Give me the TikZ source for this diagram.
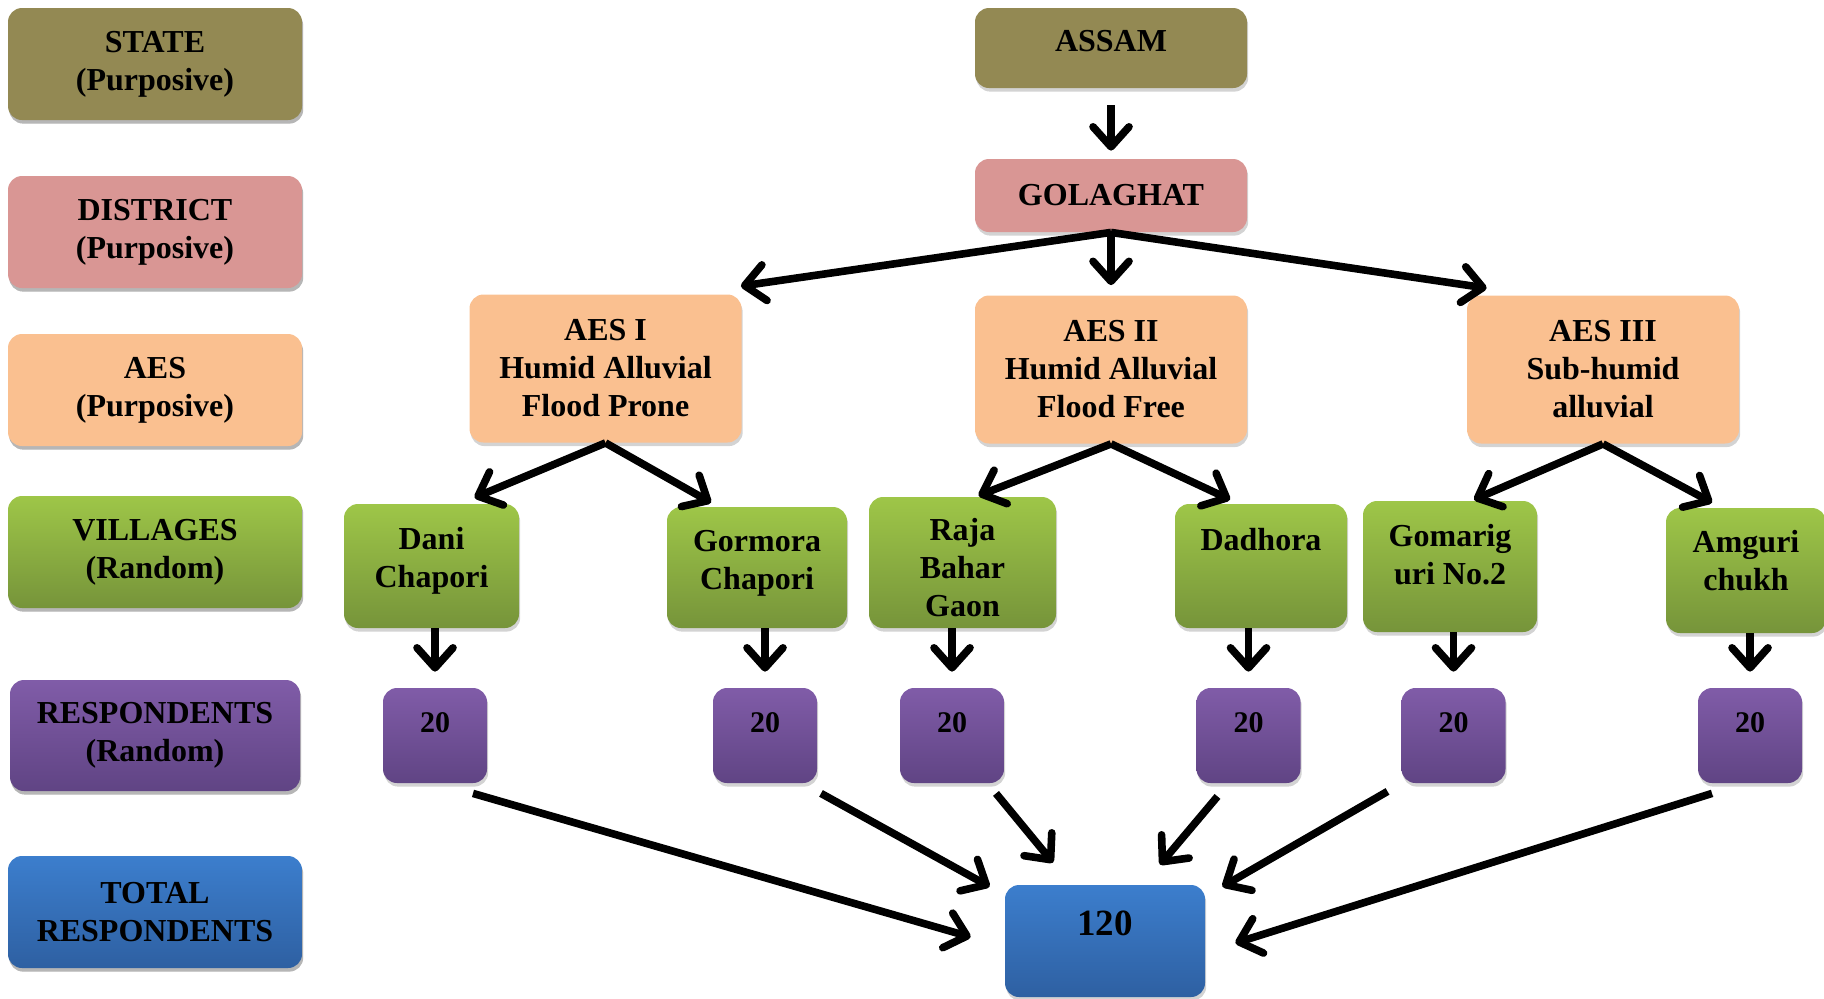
\documentclass[tikz,border=0pt]{standalone}
\usepackage{fontspec}
\setmainfont{Liberation Serif}
\usetikzlibrary{arrows.meta,positioning,calc,shadows}
\definecolor{stateC}{RGB}{147,137,83}
\definecolor{distC}{RGB}{217,150,148}
\definecolor{aesC}{RGB}{250,192,144}
\definecolor{villT}{RGB}{158,198,72}
\definecolor{villB}{RGB}{118,148,58}
\definecolor{respT}{RGB}{128,92,168}
\definecolor{respB}{RGB}{96,68,132}
\definecolor{totT}{RGB}{60,126,205}
\definecolor{totB}{RGB}{46,96,162}
\tikzstyle{box}=[draw=none, rounded corners=7pt, align=center, inner sep=0pt, drop shadow={shadow xshift=0.6pt, shadow yshift=-1.8pt, opacity=0.35}]
\tikzstyle{level}=[box, minimum width=147pt, minimum height=56pt]
\tikzstyle{statebox}=[box, fill=stateC]
\tikzstyle{distbox}=[box, fill=distC]
\tikzstyle{aesbox}=[box, fill=aesC, minimum width=136pt, minimum height=74pt]
\tikzstyle{villbox}=[box, top color=villT, bottom color=villB]
\tikzstyle{respbox}=[box, top color=respT, bottom color=respB, minimum width=52pt, minimum height=47.5pt, text depth=12.5pt, font=\bfseries\fontsize{15}{18}\selectfont]
\tikzstyle{totbox}=[box, top color=totT, bottom color=totB]

\begin{document}
\begin{tikzpicture}[x=0.5pt,y=-0.5pt,>={Straight Barb[length=10pt,width=18pt,round]},font=\bfseries\fontsize{16}{19}\selectfont,
  every edge/.style={draw,line width=3.8pt,preaction={draw=black!30,transform canvas={shift={(0.9pt,-1.3pt)}}}}]
\useasboundingbox (0,0) rectangle (1824,998);
% levels
\node [level,statebox] (lstate) at (155,64) {STATE\\(Purposive)};
\node [level,distbox] (ldist) [below of=lstate,node distance=84pt] {DISTRICT\\(Purposive)};
\node [level,aesbox,minimum width=147pt,minimum height=56pt] (laes) [below of=ldist,node distance=79pt] {AES\\(Purposive)};
\node [level,villbox] (lvill) [below of=laes,node distance=81pt] {VILLAGES\\(Random)};
\node [level,respbox,minimum width=145pt,minimum height=55.5pt,text depth=4pt,font=\bfseries\fontsize{16}{19}\selectfont] (lresp) [below of=lvill,node distance=91.75pt] {RESPONDENTS\\(Random)};
\node [level,totbox] (ltot) [below of=lresp,node distance=88.25pt] {TOTAL\\RESPONDENTS};

% tree
\node [statebox,minimum width=136pt,minimum height=40pt,text depth=7pt] (assam) at (1111,48) {ASSAM};
\node [distbox,minimum width=136pt,minimum height=36.5pt] (gol) [below of=assam,node distance=73.75pt] {GOLAGHAT};
\node [aesbox] (aes2) [below of=gol,node distance=87pt] {AES II\\Humid Alluvial\\Flood Free};
\node [aesbox] (aes1) at (605.5,368.5) {AES I\\Humid Alluvial\\Flood Prone};
\node [aesbox] (aes3) at (1603,369.5) {AES III\\Sub-humid\\alluvial};

\node [villbox,minimum width=87.5pt,minimum height=62pt,text depth=8.5pt] (v1) at (431.5,566) {Dani\\Chapori};
\node [villbox,minimum width=90pt,minimum height=60.5pt,text depth=7.5pt] (v2) at (757,567.5) {Gormora\\Chapori};
\node [villbox,minimum width=93.5pt,minimum height=65.5pt,text height=54pt] (v3) at (962.5,562.5) {Raja\\Bahar\\Gaon};
\node [villbox,minimum width=86pt,minimum height=62pt,text depth=27pt] (v4) at (1261,566) {Dadhora};
\node [villbox,minimum width=87pt,minimum height=65.5pt,text depth=12.5pt] (v5) at (1450,566.5) {Gomarig\\uri No.2};
\node [villbox,minimum width=80pt,minimum height=62.5pt,text depth=10.5pt] (v6) at (1746,570.5) {Amguri\\chukh};

\node [respbox] (r1) at (435,735.5) {20};
\node [respbox] (r2) at (765,735.5) {20};
\node [respbox] (r3) at (952,735.5) {20};
\node [respbox] (r4) at (1248.5,735.5) {20};
\node [respbox] (r5) at (1453.5,735.5) {20};
\node [respbox] (r6) at (1750,735.5) {20};

\node [totbox,minimum width=100pt,minimum height=56pt,text depth=18pt,font=\bfseries\fontsize{18.5}{22}\selectfont] (total) at (1105,941) {120};

% arrows
\path[->] (assam.south) edge[shorten <=8.5pt,shorten >=4pt] (gol.north);
\path[->] (gol.south) edge ($(aes1.north east)+(-1,-8)$)
  edge[shorten >=5pt] (aes2.north)
  edge ($(aes3.north west)+(20,-7)$);
\path[->] (aes1.south) edge ($(v1.north)+(43,-6)$) edge ($(v2.north)+(-46,-4)$);
\path[->] (aes2.south) edge ($(v3.north)+(16,-1)$) edge ($(v4.north)+(-31,-4)$);
\path[->] (aes3.south) edge ($(v5.north)+(24,-1)$) edge ($(v6.north)+(-34,-5)$);
\path[->] (r1.north |- v1.south) edge[shorten >=8pt] (r1.north)
  (r2.north |- v2.south) edge[shorten >=8pt] (r2.north)
  (r3.north |- v3.south) edge[shorten >=8pt] (r3.north)
  (r4.north |- v4.south) edge[shorten >=8pt] (r4.north)
  (r5.north |- v5.south) edge[shorten >=8pt] (r5.north)
  (r6.north |- v6.south) edge[shorten >=8pt] (r6.north);
\path[->] ($(r1.south)+(38,10)$) edge ($(total.west)+(-34,-4)$)
  ($(r2.south)+(56,10)$) edge ($(total.north west)+(-15,2)$)
  ($(r3.south)+(44,10)$) edge ($(total.north)+(-52,-22)$)
  ($(r4.south)+(-31,13)$) edge ($(total.north)+(55,-20)$)
  ($(r5.south)+(-66,8)$) edge ($(total.north east)+(17,2)$)
  ($(r6.south)+(-38,10)$) edge ($(total.east)+(30,2)$);
\end{tikzpicture}
\end{document}
